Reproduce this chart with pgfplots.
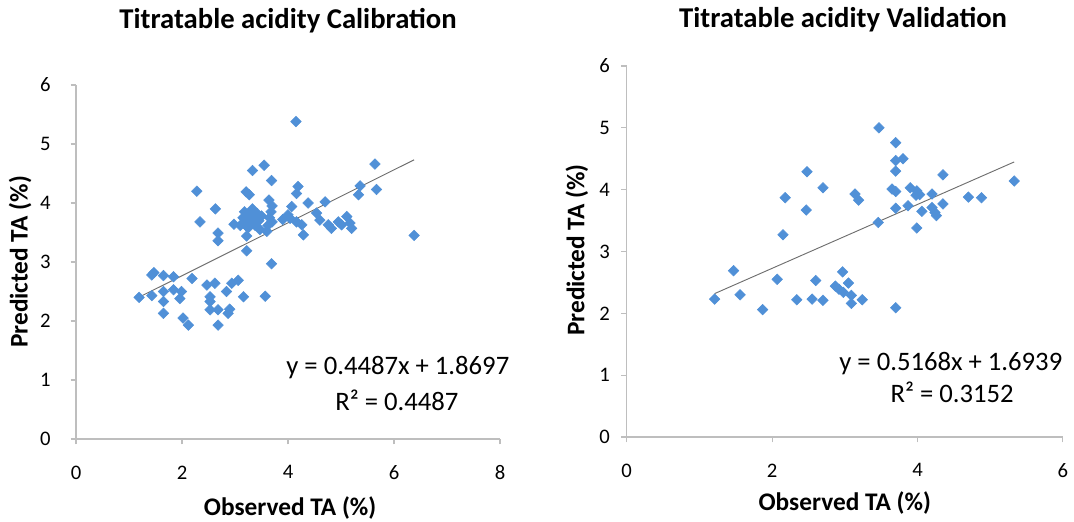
\documentclass[border=0pt]{standalone}
\usepackage{pgfplots}
\pgfplotsset{compat=1.18}
\usepackage{fontspec}
\setmainfont{Carlito}

\definecolor{markblue}{RGB}{80,144,215}
\definecolor{axisgray}{RGB}{190,190,190}
\definecolor{trendgray}{RGB}{110,110,110}

\pgfplotsset{
  excel/.style={
    scale only axis,
    axis x line=bottom, axis y line=left,
    axis line style={axisgray, line width=0.8pt, -},
    tick style={axisgray, line width=0.8pt},
    tick align=outside,
    major tick length=4pt,
    ymin=0, ymax=6, ytick={0,1,...,6},
    xmin=0,
    /pgf/number format/assume math mode=true,
    tick label style={font=\fontsize{15.5}{18}\selectfont, black},
    xticklabel style={yshift=-12.5pt},
    title style={font=\fontsize{21.5}{25}\selectfont\bfseries, anchor=center},
    label style={font=\fontsize{19}{22}\selectfont\bfseries, anchor=center},
    clip=false,
  },
  obs/.style={only marks, mark=square*, mark size=2.8pt,
    mark options={rotate=45, draw=markblue, fill=markblue}},
  trend/.style={trendgray, line width=0.7pt, no marks},
}

% Calibration set: observed vs predicted titratable acidity (%)
\pgfplotstableread{
x y
1.19 2.40
1.43 2.78
1.47 2.82
1.43 2.43
1.65 2.77
1.65 2.50
1.65 2.33
1.65 2.13
1.84 2.75
1.84 2.53
1.99 2.50
1.96 2.38
2.02 2.05
2.12 1.93
2.19 2.72
2.47 2.61
2.62 2.64
2.53 2.41
2.53 2.33
2.53 2.19
2.68 2.19
2.87 2.13
2.68 1.93
2.84 2.50
2.94 2.64
3.06 2.69
3.16 2.41
3.57 2.42
2.90 2.20
2.28 4.20
2.34 3.68
2.63 3.90
2.68 3.49
2.68 3.36
2.98 3.64
3.22 3.44
3.22 3.19
3.69 2.97
3.21 4.19
3.27 4.14
3.33 4.55
3.55 4.64
3.69 4.38
4.15 5.38
3.10 3.62
3.15 3.75
3.18 3.85
3.22 3.70
3.25 3.58
3.28 3.80
3.30 3.66
3.33 3.90
3.35 3.74
3.38 3.62
3.42 3.82
3.45 3.70
3.50 3.78
3.47 3.55
3.20 3.62
3.30 3.85
3.62 3.62
3.65 3.75
3.68 3.85
3.70 3.95
3.64 4.05
3.60 3.52
3.70 3.68
3.90 3.72
4.00 3.80
4.19 4.28
4.16 4.16
4.38 4.00
4.70 4.02
4.07 3.94
4.04 3.74
4.16 3.68
4.26 3.63
4.29 3.46
4.54 3.83
4.60 3.71
4.76 3.63
4.82 3.57
4.95 3.68
5.01 3.63
5.11 3.77
5.17 3.66
5.20 3.57
5.36 4.29
5.33 4.14
5.64 4.66
5.67 4.23
6.38 3.45
}\calib

% Validation set
\pgfplotstableread{
x y
1.21 2.23
1.47 2.69
1.56 2.30
1.87 2.06
2.07 2.55
2.15 3.27
2.18 3.87
2.34 2.22
2.47 3.67
2.48 4.29
2.55 2.23
2.60 2.53
2.70 2.21
2.70 4.03
2.87 2.44
2.92 2.39
2.97 2.67
2.98 2.34
3.05 2.49
3.09 2.29
3.09 2.16
3.14 3.93
3.19 3.83
3.24 2.22
3.47 5.00
3.46 3.47
3.70 4.76
3.70 4.47
3.80 4.50
3.70 4.30
3.65 4.01
3.70 3.97
3.70 3.70
3.70 2.09
3.87 3.74
3.90 4.03
3.99 3.98
4.03 3.92
3.98 3.91
3.99 3.38
4.06 3.65
4.20 3.93
4.20 3.71
4.24 3.63
4.26 3.58
4.35 4.24
4.35 3.77
4.70 3.88
4.88 3.87
5.33 4.14
}\valid

\begin{document}
\begin{tikzpicture}
\useasboundingbox (0,0) rectangle (805.5pt,390.75pt);

\begin{axis}[excel,
  at={(57pt,61.5pt)}, anchor=south west,
  width=318pt, height=265.5pt,
  xmax=8, xtick={0,2,...,8},
  yticklabel style={xshift=-11.5pt},
  title={Titratable acidity Calibration},
  title style={at={(axis description cs:0.5,1.16)}},
  xlabel={Observed TA (\%)},
  xlabel style={at={(axis description cs:0.505,-0.195)}},
  ylabel={Predicted TA (\%)},
  ylabel style={at={(axis description cs:-0.132,0.5)}, rotate=0},
]
\addplot[obs] table[x=x, y=y] {\calib};
\addplot[trend] coordinates {(1.19,2.4037) (6.38,4.7324)};
\node[font=\fontsize{20}{24}\selectfont] at (axis description cs:0.759,0.2006) {y = 0.4487x + 1.8697};
\node[font=\fontsize{20}{24}\selectfont] at (axis description cs:0.757,0.110) {R² = 0.4487};
\end{axis}

\begin{axis}[excel,
  at={(470pt,63pt)}, anchor=south west,
  width=327.2pt, height=278.25pt,
  xmax=6, xtick={0,2,4,6},
  yticklabel style={xshift=-5pt},
  title={Titratable acidity Validation},
  title style={at={(axis description cs:0.496,1.102)}},
  xlabel={Observed TA (\%)},
  xlabel style={at={(axis description cs:0.5,-0.178)}},
  ylabel={Predicted TA (\%)},
  ylabel style={at={(axis description cs:-0.114,0.504)}, rotate=0},
]
\addplot[obs] table[x=x, y=y] {\valid};
\addplot[trend] coordinates {(1.21,2.3192) (5.33,4.4485)};
\node[font=\fontsize{20}{24}\selectfont] at (axis description cs:0.743,0.199) {y = 0.5168x + 1.6939};
\node[font=\fontsize{20}{24}\selectfont] at (axis description cs:0.746,0.121) {R² = 0.3152};
\end{axis}
\end{tikzpicture}
\end{document}
